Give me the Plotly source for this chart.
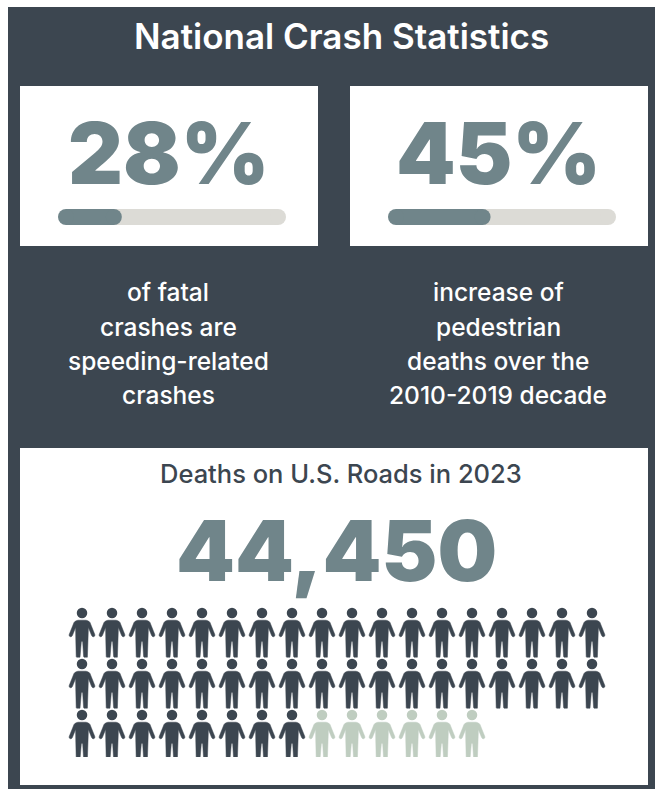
import plotly.graph_objects as go

W, H = 655, 789
DARK, TEAL, TRACK, LIGHT, WHITE = "#3c4650", "#70858a", "#dcdbd6", "#bfcdc0", "#ffffff"

# Data
title = "National Crash Statistics"
stat_labels = ["28%", "45%"]
stat_values = [28, 45]
stat_captions = [
    ["of fatal", "crashes are", "speeding-related", "crashes"],
    ["increase of", "pedestrian", "deaths over the", "2010-2019 decade"],
]
deaths_heading = "Deaths on U.S. Roads in 2023"
deaths_label = "44,450"
icons_per_row = 18
dark_icons = 44
light_icons = 6

# Layout (pixels)
PANEL = (8, 7, 655, 789)
CARDS = [(20, 86, 318, 246), (350, 86, 648, 246)]
DEATH_CARD = (20, 448, 648, 785)
TRACKS = [(58, 286), (388, 616)]
TRACK_Y = (209, 225)
CAPTION_X = [168, 498]
CAPTION_Y = [292, 327, 361, 395]
COL_PITCH, ROW_PITCH = 30.0, 51.0
GRID_LEFT, GRID_TOP = 82 - COL_PITCH / 2, 613 - 9.0

fig = go.Figure()
fig.add_trace(go.Scatter(x=[0], y=[0], mode="markers", marker=dict(opacity=0), hoverinfo="skip", showlegend=False))

shapes = [dict(type="rect", x0=PANEL[0], y0=PANEL[1], x1=PANEL[2], y1=PANEL[3], fillcolor=DARK, line_width=0, layer="below")]
for c in CARDS + [DEATH_CARD]:
    shapes.append(dict(type="rect", x0=c[0], y0=c[1], x1=c[2], y1=c[3], fillcolor=WHITE, line_width=0, layer="below"))

annotations = []
def note(x, y, text, size, color, family, weight=400):
    annotations.append(dict(x=x, y=y, text=text, xref="x", yref="y", showarrow=False, xanchor="center", yanchor="middle",
                            font=dict(size=size, color=color, family=family, weight=weight)))

SANS = "Inter"
HEAVY = "Inter"
note(341, 36, title, 35, WHITE, SANS, 600)
for i, card in enumerate(CARDS):
    note((card[0] + card[2]) / 2 - 1, 153, stat_labels[i], 85, TEAL, HEAVY, 900)
    for y, line in zip(CAPTION_Y, stat_captions[i]):
        note(CAPTION_X[i], y, line, 24.5, WHITE, SANS, 500)
note(341, 473, deaths_heading, 25.5, DARK, SANS, 500)
note(336.5, 550, deaths_label, 84, TEAL, HEAVY, 900)

# Progress bars, each on its own 0-100 axis; round dots form the end caps
layout_axes = {}
for i, (v, (t0, t1)) in enumerate(zip(stat_values, TRACKS)):
    n = i + 2
    xa, ya = f"x{n}", f"y{n}"
    size = TRACK_Y[1] - TRACK_Y[0]
    cap = size / 2 / (t1 - t0) * 100
    layout_axes[f"xaxis{n}"] = dict(domain=[t0 / W, t1 / W], range=[0, 100], visible=False, fixedrange=True, anchor=ya)
    layout_axes[f"yaxis{n}"] = dict(domain=[1 - TRACK_Y[1] / H, 1 - TRACK_Y[0] / H], range=[-0.5, 0.5], visible=False, fixedrange=True, anchor=xa)
    for val, color, dots in ((100, TRACK, [100 - cap]), (v, TEAL, [cap, v - cap])):
        fig.add_trace(go.Bar(x=[val - 2 * cap], base=[cap], y=[0], orientation="h", width=1, opacity=1,
                             marker=dict(color=color, opacity=1, line_width=0),
                             xaxis=xa, yaxis=ya, showlegend=False, hoverinfo="skip"))
        fig.add_trace(go.Scatter(x=dots, y=[0] * len(dots), mode="markers", marker=dict(size=size, color=color, line_width=0),
                                 xaxis=xa, yaxis=ya, showlegend=False, hoverinfo="skip", cliponaxis=False))

# Pictogram on a col/row axis
rows = (dark_icons + light_icons - 1) // icons_per_row + 1
layout_axes["xaxis4"] = dict(domain=[GRID_LEFT / W, (GRID_LEFT + icons_per_row * COL_PITCH) / W], range=[-0.5, icons_per_row - 0.5],
                             visible=False, fixedrange=True, anchor="y4")
layout_axes["yaxis4"] = dict(domain=[1 - (GRID_TOP + rows * ROW_PITCH) / H, 1 - GRID_TOP / H], range=[rows - 0.5, -0.5],
                             visible=False, fixedrange=True, anchor="x4")

# half outline in px, relative to head centre
half = [(0, 7.2), (4, 7.2), (6.5, 8.0), (8, 9.5), (12.8, 21.5), (12.8, 23), (11, 24), (9.6, 22.5), (6.4, 14.5),
        (6.2, 27), (5.8, 43.6), (5.4, 44.2), (2.0, 44.2), (1.6, 43.6), (0.7, 29), (0, 28)]
outline = [(x, y) for x, y in half] + [(-x, y) for x, y in reversed(half)]
head_to_row = (9.0 - ROW_PITCH / 2) / ROW_PITCH

def icons(indices, color):
    xs, ys, hx, hy = [], [], [], []
    for k in indices:
        col, row = k % icons_per_row, k // icons_per_row
        hx.append(col)
        hy.append(row + head_to_row)
        for px, py in outline:
            xs.append(col + px / COL_PITCH)
            ys.append(row + head_to_row + py / ROW_PITCH)
        xs.append(None)
        ys.append(None)
    fig.add_trace(go.Scatter(x=xs, y=ys, mode="lines", fill="toself", fillcolor=color, line=dict(color=color, width=0.5),
                             xaxis="x4", yaxis="y4", showlegend=False, hoverinfo="skip"))
    fig.add_trace(go.Scatter(x=hx, y=hy, mode="markers", marker=dict(size=10.5, color=color, line_width=0),
                             xaxis="x4", yaxis="y4", showlegend=False, hoverinfo="skip"))

icons(range(dark_icons), DARK)
icons(range(dark_icons, dark_icons + light_icons), LIGHT)

fig.update_layout(
    width=W, height=H, margin=dict(l=0, r=0, t=0, b=0), paper_bgcolor=WHITE, plot_bgcolor="rgba(0,0,0,0)",
    barmode="overlay", showlegend=False,
    xaxis=dict(domain=[0, 1], range=[0, W], visible=False, fixedrange=True),
    yaxis=dict(domain=[0, 1], range=[H, 0], visible=False, fixedrange=True),
    shapes=shapes, annotations=annotations, **layout_axes,
)
fig.write_html("out.html", config=dict(displayModeBar=False), post_script="document.body.style.margin='0';")
